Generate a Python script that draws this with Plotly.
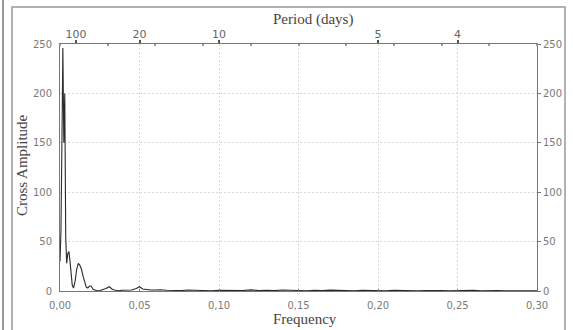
import plotly.graph_objects as go

# Frequency (cycles/day) and cross amplitude values
frequency = [0.0000, 0.0006, 0.0012, 0.0018, 0.0024, 0.0030, 0.0036, 0.0042,
             0.0049, 0.0056, 0.0063, 0.0070, 0.0077, 0.0085, 0.0095, 0.0105,
             0.0115, 0.0125, 0.0135, 0.0145, 0.0155, 0.0165, 0.0175, 0.0185,
             0.0195, 0.0210, 0.0230, 0.0250, 0.0270, 0.0290, 0.0310, 0.0330,
             0.0350, 0.0370, 0.0390, 0.0420, 0.0450, 0.0480, 0.0500, 0.0520,
             0.0540, 0.0570, 0.0600, 0.0630, 0.0670, 0.0700, 0.0730, 0.0770,
             0.0800, 0.0850, 0.0900, 0.0950, 0.1000, 0.1050, 0.1100, 0.1150,
             0.1200, 0.1250, 0.1300, 0.1350, 0.1400, 0.1450, 0.1500, 0.1550,
             0.1600, 0.1650, 0.1700, 0.1750, 0.1800, 0.1850, 0.1900, 0.1950,
             0.2000, 0.2050, 0.2100, 0.2150, 0.2200, 0.2250, 0.2300, 0.2350,
             0.2400, 0.2450, 0.2500, 0.2550, 0.2600, 0.2650, 0.2700, 0.2750,
             0.2800, 0.2850, 0.2900, 0.2950, 0.3000]
amplitude = [30, 60, 150, 246, 150, 200, 55, 28,
             38, 40, 30, 17, 6, 3, 10, 22,
             28, 26, 22, 15, 9, 4, 3, 5,
             5, 1.5, 0.5, 0.3, 1.5, 2.5, 4.3, 1.5,
             0.8, 0.3, 0.8, 1.0, 1.0, 2.5, 4.3, 2.0,
             1.5, 1.0, 1.0, 1.3, 0.8, 0.5, 0.8, 0.4,
             1.0, 0.6, 0.8, 0.3, 0.7, 0.5, 0.9, 0.4,
             1.1, 0.5, 0.8, 0.4, 1.0, 0.6, 0.5, 0.3,
             0.7, 0.4, 0.9, 0.5, 0.4, 0.3, 0.6, 0.4,
             0.7, 0.3, 0.8, 0.5, 0.4, 0.3, 0.5, 0.7,
             0.4, 0.3, 0.6, 0.4, 0.7, 0.3, 0.6, 0.4,
             0.3, 0.2, 0.3, 0.2, 0.2]

bottom_ticks = [0.00, 0.05, 0.10, 0.15, 0.20, 0.25, 0.30]
period_ticks = [0.01, 0.05, 0.10, 0.20, 0.25]
period_labels = ["100", "20", "10", "5", "4"]
y_ticks = [0, 50, 100, 150, 200, 250]

TICK_FONT = dict(family="DejaVu Sans", size=10, color="#7a7a7a")
TITLE_FONT = dict(family="Liberation Serif", size=15, color="#444444")
AXIS_COLOR = "#777777"
GRID_COLOR = "#d8d8d8"

fig = go.Figure()
fig.add_trace(go.Scatter(x=frequency, y=amplitude, mode="lines",
                         line=dict(color="#2a2a2a", width=1.1),
                         showlegend=False, hoverinfo="skip"))
# dummy traces to activate the top and right axes
fig.add_trace(go.Scatter(x=[0, 0.3], y=[None, None], xaxis="x2", yaxis="y",
                         showlegend=False, hoverinfo="skip"))
fig.add_trace(go.Scatter(x=[0, 0.3], y=[None, None], xaxis="x", yaxis="y2",
                         showlegend=False, hoverinfo="skip"))

fig.update_layout(
    width=573, height=330,
    margin=dict(l=60, r=36, t=44, b=39),
    paper_bgcolor="white", plot_bgcolor="white",
    separators=", ",
    showlegend=False,
    xaxis=dict(range=[0, 0.3], tickvals=bottom_ticks, tickformat=".2f",
               showgrid=True, gridcolor=GRID_COLOR, griddash="2px,2px", gridwidth=1,
               showline=True, linecolor=AXIS_COLOR, linewidth=1, mirror=True,
               ticks="inside", ticklen=2, tickcolor=AXIS_COLOR,
               ticklabelstandoff=5,
               tickfont=TICK_FONT, zeroline=False),
    xaxis2=dict(range=[0, 0.3], overlaying="x", side="top",
                tickmode="array", tickvals=period_ticks, ticktext=period_labels,
                ticks="outside", ticklen=3, tickwidth=2, tickcolor="#555555",
                showgrid=False, showline=True, linecolor=AXIS_COLOR,
                ticklabelstandoff=-2,
                tickfont=dict(family="DejaVu Sans", size=11, color="#666666"),
                minor=dict(tickmode="linear", tick0=0, dtick=0.03,
                           ticks="inside", ticklen=2, tickcolor="#999999"),
                zeroline=False),
    yaxis=dict(range=[0, 250], tickvals=y_ticks,
               showgrid=True, gridcolor=GRID_COLOR, griddash="2px,2px", gridwidth=1,
               showline=True, linecolor=AXIS_COLOR, linewidth=1, mirror=True,
               ticks="", tickfont=TICK_FONT, zeroline=False,
               ticklabelstandoff=5),
    yaxis2=dict(range=[0, 250], tickvals=y_ticks, overlaying="y", side="right",
                showgrid=False, ticks="outside", ticklen=3, tickcolor=AXIS_COLOR,
                tickfont=TICK_FONT, zeroline=False, showline=False),
)

fig.add_annotation(text="Period (days)", xref="paper", yref="paper",
                   x=0.53, y=1.10, xanchor="center", yanchor="middle",
                   showarrow=False, font=TITLE_FONT)
fig.add_annotation(text="Frequency", xref="paper", yref="paper",
                   x=0.514, y=-0.113, xanchor="center", yanchor="middle",
                   showarrow=False, font=TITLE_FONT)
fig.add_annotation(text="Cross Amplitude", xref="paper", yref="paper",
                   x=-0.0797, y=0.51, xanchor="center", yanchor="middle",
                   textangle=-90, showarrow=False, font=TITLE_FONT)

# outer frame of the original figure panel
fig.add_shape(type="rect", xref="paper", yref="paper",
              x0=-0.1006, x1=1.0587, y0=-0.2, y1=1.1495,
              line=dict(color="#999999", width=1.5), layer="below")
fig.add_shape(type="line", xref="paper", yref="paper",
              x0=-0.1195, x1=-0.1195, y0=-0.2, y1=1.2,
              line=dict(color="#777777", width=1.5), layer="below")

fig.write_html("out.html")
